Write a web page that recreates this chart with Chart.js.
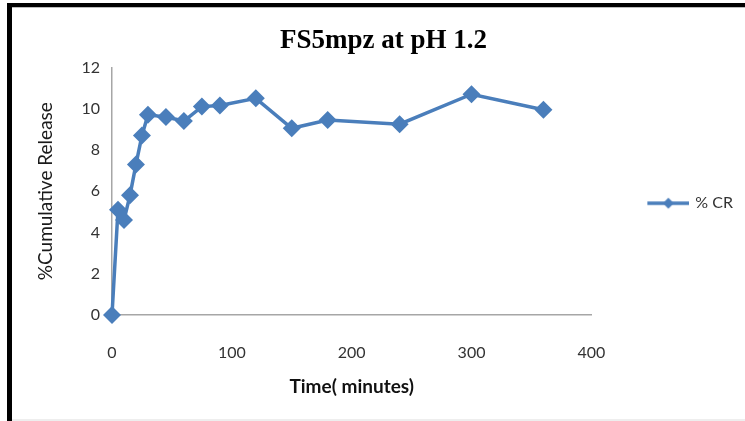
<!DOCTYPE html>
<html>
<head>
<meta charset="utf-8">
<script src="https://cdn.jsdelivr.net/npm/chart.js@4.4.0/dist/chart.umd.min.js"></script>
<style>
  html, body { margin: 0; padding: 0; background: #fff; }
  #wrap { position: relative; width: 745px; height: 421px; overflow: hidden; }
  #frameTop { position: absolute; left: 7px; top: 3px; width: 738px; height: 4px; background: #000; }
  #frameLine { position: absolute; left: 12px; top: 7px; width: 733px; height: 1px; background: #bbb; }
  #frameLeft { position: absolute; left: 7px; top: 3px; width: 5px; height: 418px; background: #000; }
  #frameBottom { position: absolute; left: 12px; top: 419px; width: 733px; height: 2px; background: #eee; }
</style>
</head>
<body>
<div id="wrap">
  <canvas id="releaseChart" width="745" height="421"></canvas>
  <div id="frameTop"></div>
  <div id="frameLine"></div>
  <div id="frameLeft"></div>
  <div id="frameBottom"></div>
</div>
<script>
// sampling times (minutes) and % cumulative release
const timeMinutes = [0, 5, 10, 15, 20, 25, 30, 45, 60, 75, 90, 120, 150, 180, 240, 300, 360];
const cumulativeRelease = [0, 5.1, 4.6, 5.8, 7.3, 8.7, 9.7, 9.6, 9.4, 10.1, 10.15, 10.5, 9.05, 9.45, 9.25, 10.7, 9.95];
const xTicks = [0, 100, 200, 300, 400];
const yTicks = [0, 2, 4, 6, 8, 10, 12];

const blue = '#4A7EBB';
const uiFont = 'Lato, "Open Sans", "Liberation Sans", sans-serif';

// legend symbol: line with a diamond in the middle (left part left blank on purpose)
function legendSymbol() {
    const c = document.createElement('canvas');
    c.width = 57;
    c.height = 14;
    const g = c.getContext('2d');
    g.strokeStyle = blue;
    g.lineWidth = 3.5;
    g.beginPath();
    g.moveTo(15, 7);
    g.lineTo(57, 7);
    g.stroke();
    g.fillStyle = blue;
    g.beginPath();
    g.moveTo(36 - 5.5, 7);
    g.lineTo(36, 1.5);
    g.lineTo(36 + 5.5, 7);
    g.lineTo(36, 12.5);
    g.closePath();
    g.fill();
    return c;
}
const symbol = legendSymbol();

const points = timeMinutes.map((t, i) => ({x: t, y: cumulativeRelease[i]}));

const config = {
    type: 'line',
    data: {
        datasets: [{
            label: '% CR',
            data: points,
            borderColor: blue,
            backgroundColor: blue,
            borderWidth: 3.5,
            pointStyle: 'rectRot',
            pointRadius: 9,
            pointBorderWidth: 0,
            pointBackgroundColor: blue,
            tension: 0,
            clip: false
        }]
    },
    options: {
        responsive: false,
        animation: false,
        events: [],
        layout: {
            padding: {left: 24, right: 2, top: 0, bottom: 0}
        },
        scales: {
            x: {
                type: 'linear',
                min: 0,
                max: 400,
                afterBuildTicks: (s) => { s.ticks = xTicks.map(v => ({value: v})); },
                afterFit: (s) => { s.height = 106; },
                grid: {display: false, drawTicks: false},
                border: {display: true, color: '#A6A6A6', width: 1.5},
                ticks: {
                    padding: 28,
                    color: '#333',
                    font: {family: uiFont, size: 16}
                },
                title: {
                    display: true,
                    text: 'Time( minutes)',
                    color: '#111',
                    font: {family: uiFont, size: 19, weight: 'bold'},
                    padding: {top: 0, bottom: 23}
                }
            },
            y: {
                min: 0,
                max: 12,
                afterBuildTicks: (s) => { s.ticks = yTicks.map(v => ({value: v})); },
                afterFit: (s) => { s.width = 88; },
                grid: {display: false, drawTicks: false},
                border: {display: true, color: '#A6A6A6', width: 1.5},
                ticks: {
                    padding: 12,
                    color: '#333',
                    font: {family: uiFont, size: 16}
                },
                title: {
                    display: true,
                    text: '%Cumulative Release',
                    color: '#1a1a1a',
                    font: {family: uiFont, size: 19},
                    padding: {top: 10, bottom: 0}
                }
            }
        },
        plugins: {
            title: {
                display: true,
                text: 'FS5mpz at pH 1.2',
                color: '#000',
                font: {family: '"Liberation Serif", "DejaVu Serif", serif', size: 27, weight: 'bold'},
                padding: {top: 25, bottom: 10}
            },
            legend: {
                display: true,
                position: 'right',
                fullSize: false,
                title: {
                    display: true,
                    text: ' ',
                    font: {size: 10, lineHeight: 1},
                    padding: 7
                },
                labels: {
                    usePointStyle: true,
                    pointStyleWidth: 53,
                    padding: 43,
                    color: '#333',
                    font: {family: uiFont, size: 16},
                    generateLabels: (chart) => chart.data.datasets.map((ds, i) => ({
                        text: ds.label,
                        pointStyle: symbol,
                        fillStyle: blue,
                        strokeStyle: blue,
                        lineWidth: 0,
                        fontColor: '#333',
                        datasetIndex: i,
                        hidden: false
                    }))
                }
            },
            tooltip: {enabled: false}
        }
    }
};

const releaseChart = new Chart(document.getElementById('releaseChart'), config);
</script>
</body>
</html>
